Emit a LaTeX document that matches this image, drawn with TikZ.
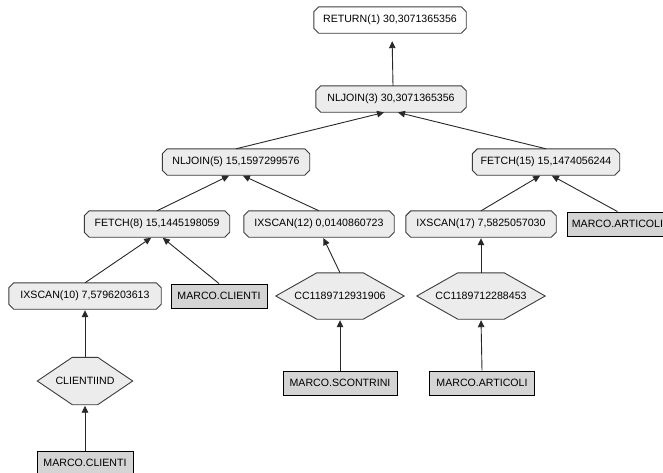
\documentclass[tikz,border=0pt]{standalone}
\usepackage{fontspec}
\setmainfont{Liberation Sans}
\usetikzlibrary{arrows.meta,backgrounds}

\definecolor{opfill}{RGB}{236,236,236}
\definecolor{tabfill}{RGB}{212,212,212}
\definecolor{opline}{RGB}{60,60,60}
\definecolor{conn}{RGB}{40,40,40}

% octagonal outline (cut corners) around an operator node
\newcommand\opoutline[2][opfill]{%
  \filldraw[fill=#1, draw=opline, line width=0.9pt]
    ([xshift=5pt]#2.north west) -- ([xshift=-5pt]#2.north east)
    -- ([yshift=-5pt]#2.north east) -- ([yshift=5pt]#2.south east)
    -- ([xshift=-5pt]#2.south east) -- ([xshift=5pt]#2.south west)
    -- ([yshift=5pt]#2.south west) -- ([yshift=-5pt]#2.north west) -- cycle;}
% hexagonal outline around an index node
\newcommand\hexoutline[2]{%
  \filldraw[fill=opfill, draw=opline, line width=0.9pt]
    (#1.west) -- ([xshift=#2]#1.north west) -- ([xshift=-#2]#1.north east)
    -- (#1.east) -- ([xshift=-#2]#1.south east) -- ([xshift=#2]#1.south west) -- cycle;}

\begin{document}
\begin{tikzpicture}[x=1pt,y=-1pt,
  every node/.style={font=\fontsize{10.6}{12}\selectfont, inner sep=0pt},
  opnode/.style={minimum width=#1, minimum height=26pt},
  tabnode/.style={draw=black, fill=tabfill, line width=0.9pt,
                  minimum width=#1, minimum height=24pt},
  hexnode/.style={minimum width=#1, minimum height=46pt},
  arr/.style={draw=conn, line width=0.9pt,
              -{Triangle[length=7pt,width=6.5pt]}, shorten >=1pt}]
\useasboundingbox (0,0) rectangle (663,472);
\clip (0,0) rectangle (663,472);

% operators
\node[opnode=152pt] (ret)  at (390,20)  {RETURN(1) 30,3071365356};
\node[opnode=150pt] (nl3)  at (391,99)  {NLJOIN(3) 30,3071365356};
\node[opnode=147pt] (nl5)  at (236,162) {NLJOIN(5) 15,1597299576};
\node[opnode=147pt] (fe15) at (546,162) {FETCH(15) 15,1474056244};
\node[opnode=145pt] (fe8)  at (157,224) {FETCH(8) 15,1445198059};
\node[opnode=150pt] (ix12) at (319,224) {IXSCAN(12) 0,0140860723};
\node[opnode=150pt] (ix17) at (481,224) {IXSCAN(17) 7,5825057030};
\node[opnode=152pt] (ix10) at (85,296)  {IXSCAN(10) 7,5796203613};

% tables
\node[tabnode=100pt, anchor=west] (art1) at (567,224) {MARCO.ARTICOLI};
\node[tabnode=96pt]  (cli1) at (219,296) {MARCO.CLIENTI};
\node[tabnode=114pt] (scon) at (340,383) {MARCO.SCONTRINI};
\node[tabnode=105pt] (art2) at (482,383) {MARCO.ARTICOLI};
\node[tabnode=96pt]  (cli2) at (85,463)  {MARCO.CLIENTI};

% indexes
\node[hexnode=128pt] (cc1)  at (340,296) {CC1189712931906};
\node[hexnode=128pt] (cc2)  at (481,296) {CC1189712288453};
\node[hexnode=95pt, minimum height=47pt] (cidx) at (85,381) {CLIENTIIND};

\begin{scope}[on background layer]
  \fill[white] (0,0) rectangle (663,472);
  \opoutline[white]{ret}
  \opoutline{nl3}
  \opoutline{nl5}
  \opoutline{fe15}
  \opoutline{fe8}
  \opoutline{ix12}
  \opoutline{ix17}
  \opoutline{ix10}
  \hexoutline{cc1}{41pt}
  \hexoutline{cc2}{41pt}
  \hexoutline{cidx}{35pt}
\end{scope}

% data flow, child to parent
\draw[arr, shorten >=8pt] ([xshift=2pt]nl3.north) -- ([xshift=2pt]ret.south);
\draw[arr] (nl5.north)  -- ([xshift=-6pt]nl3.south);
\draw[arr] (fe15.north) -- ([xshift=6pt]nl3.south);
\draw[arr] (fe8.north)  -- ([xshift=-6pt]nl5.south);
\draw[arr] (ix12.north) -- ([xshift=6pt]nl5.south);
\draw[arr] (ix17.north) -- ([xshift=-5pt]fe15.south);
\draw[arr] (art1.north) -- ([xshift=5pt]fe15.south);
\draw[arr] (ix10.north) -- ([xshift=-5pt]fe8.south);
\draw[arr] (cli1.north) -- ([xshift=5pt]fe8.south);
\draw[arr] (cc1.north)  -- ([xshift=4pt]ix12.south);
\draw[arr] (cc2.north)  -- (ix17.south);
\draw[arr] (cidx.north) -- (ix10.south);
\draw[arr] (scon.north) -- (cc1.south);
\draw[arr] (art2.north) -- (cc2.south);
\draw[arr] (cli2.north) -- (cidx.south);
\end{tikzpicture}
\end{document}
